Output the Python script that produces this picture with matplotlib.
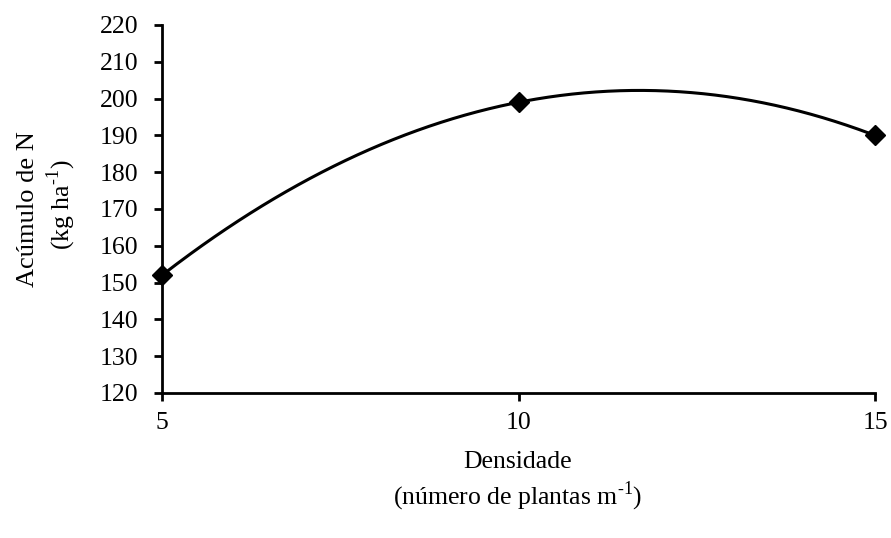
import numpy as np
import matplotlib.pyplot as plt

plt.rcParams['font.family'] = ['Liberation Serif', 'DejaVu Serif']
plt.rcParams['mathtext.fontset'] = 'custom'
plt.rcParams['mathtext.rm'] = 'Liberation Serif'

# densidade (plantas m-1) e acumulo de N (kg ha-1)
densidade = [5, 10, 15]
acumulo_n = [152, 199, 190]
y_ticks = list(range(120, 221, 10))
x_ticks = [5, 10, 15]

fs = 18.5
fig = plt.figure(figsize=(8.91, 5.38), dpi=100)
ax = fig.add_axes([162 / 891, 1 - 393 / 538, (875 - 162) / 891, (393 - 25) / 538])

# ajuste quadratico
coef = np.polyfit(densidade, acumulo_n, 2)
xs = np.linspace(5, 15, 300)
ax.plot(xs, np.polyval(coef, xs), color='black', lw=2.2, clip_on=False)
ax.plot(densidade, acumulo_n, 'D', color='black', ms=10, clip_on=False, zorder=3)

ax.set_xlim(5, 15)
ax.set_ylim(120, 220)
ax.set_xticks(x_ticks)
ax.set_yticks(y_ticks)
for s in ['top', 'right']:
    ax.spines[s].set_visible(False)
for s in ['left', 'bottom']:
    ax.spines[s].set_linewidth(2)
ax.tick_params(direction='out', width=2, length=6, labelsize=fs, colors='black')
ax.tick_params(axis='y', pad=11)
ax.tick_params(axis='x', pad=8)

fig.text(28 / 891, 1 - 209 / 538, 'Acúmulo de N', rotation=90, ha='center', va='center', fontsize=fs + 0.5)
fig.text(61 / 891, 1 - 205 / 538, r'(kg ha$^{\text{-1}}$)', rotation=90, ha='center', va='center', fontsize=fs)
fig.text(518 / 891, 1 - 462 / 538, 'Densidade', ha='center', va='center', fontsize=fs)
fig.text(518 / 891, 1 - 496 / 538, r'(número de plantas m$^{\text{-1}}$)', ha='center', va='center', fontsize=fs)

fig.savefig('out.png', dpi=100)
